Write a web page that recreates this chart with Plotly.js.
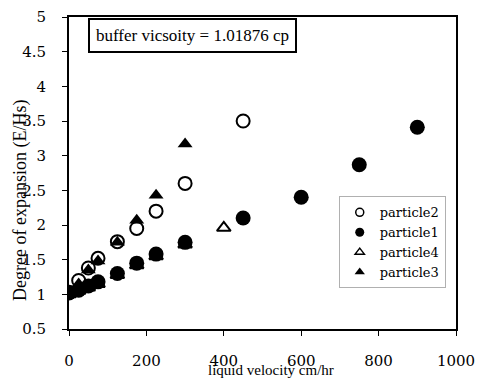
<!DOCTYPE html>
<html><head><meta charset="utf-8">
<script src="https://cdn.plot.ly/plotly-3.0.1.min.js"></script>
<style>
html,body{margin:0;padding:0;background:#fff}
#c{width:477px;height:379px}
</style>
</head><body><div id="c"></div>
<script>
const p2x = [0, 25, 50, 75, 125, 175, 225, 300, 450];
const p2y = [1.03, 1.2, 1.38, 1.52, 1.76, 1.95, 2.2, 2.6, 3.5];
const p1x = [0, 25, 50, 75, 125, 175, 225, 300, 450, 600, 750, 900];
const p1y = [1.02, 1.06, 1.12, 1.18, 1.3, 1.45, 1.58, 1.75, 2.1, 2.4, 2.87, 3.41];
const p4x = [0, 25, 50, 75, 125, 175, 225, 300, 400];
const p4y = [1.0, 1.05, 1.1, 1.15, 1.28, 1.42, 1.55, 1.72, 1.96];
const p3x = [0, 25, 50, 75, 125, 175, 225, 300];
const p3y = [1.02, 1.15, 1.35, 1.48, 1.75, 2.07, 2.43, 3.17];
const xTicks = [0, 200, 400, 600, 800, 1000];
const yTicks = [0.5, 1, 1.5, 2, 2.5, 3, 3.5, 4, 4.5, 5];
const seriesNames = ['particle2', 'particle1', 'particle4', 'particle3'];
const xTitle = 'liquid velocity cm/hr';
const yTitle = 'Degree of expansion (E/Hs)';
const note = 'buffer vicsoity = 1.01876 cp';

const serif = 'Liberation Serif';
const serif2 = 'DejaVu Serif';
const traces = [
  {x: p4x, y: p4y, name: seriesNames[2], showlegend: false, mode: 'markers', type: 'scatter',
   marker: {symbol: 'triangle-up', size: 12, color: '#fff', line: {color: '#000', width: 2}}},
  {x: p1x, y: p1y, name: seriesNames[1], showlegend: false, mode: 'markers', type: 'scatter',
   marker: {symbol: 'circle', size: 15, color: '#000', line: {width: 0}}},
  {x: p2x, y: p2y, name: seriesNames[0], showlegend: false, mode: 'markers', type: 'scatter',
   marker: {symbol: 'circle-open', size: 13, color: '#000', line: {color: '#000', width: 2}}},
  {x: p3x, y: p3y, name: seriesNames[3], showlegend: false, mode: 'markers', type: 'scatter',
   marker: {symbol: 'triangle-up', size: 13, color: '#000', line: {width: 0}}},
  {x: [null], y: [null], name: seriesNames[0], legendrank: 1, mode: 'markers', type: 'scatter',
   marker: {symbol: 'circle-open', size: 8, color: '#000', line: {color: '#000', width: 1.5}}},
  {x: [null], y: [null], name: seriesNames[1], legendrank: 2, mode: 'markers', type: 'scatter',
   marker: {symbol: 'circle', size: 9, color: '#000'}},
  {x: [null], y: [null], name: seriesNames[2], legendrank: 3, mode: 'markers', type: 'scatter',
   marker: {symbol: 'triangle-up', size: 8, color: '#fff', line: {color: '#000', width: 1.5}}},
  {x: [null], y: [null], name: seriesNames[3], legendrank: 4, mode: 'markers', type: 'scatter',
   marker: {symbol: 'triangle-up', size: 9, color: '#000'}}
];
const layout = {
  width: 477, height: 379,
  margin: {l: 69, r: 21, t: 17, b: 50},
  paper_bgcolor: '#fff', plot_bgcolor: '#fff',
  font: {family: serif, color: '#000'},
  showlegend: true,
  legend: {x: 0.697, y: 0.425, xanchor: 'left', yanchor: 'top',
    bordercolor: '#b0b0b0', borderwidth: 1, bgcolor: '#fff',
    font: {family: serif2, size: 13, color: '#000'},
    itemwidth: 30, tracegroupgap: 0, traceorder: 'normal'},
  xaxis: {range: [0, 1000], tickvals: xTicks, ticktext: xTicks.map(String),
    showgrid: false, zeroline: false, showline: true, linecolor: '#000', linewidth: 2, mirror: true,
    ticks: 'outside', ticklen: 5, tickcolor: '#000', ticklabelstandoff: 12,
    tickfont: {family: serif2, size: 15, color: '#000'}},
  yaxis: {range: [0.5, 5], tickvals: yTicks, ticktext: yTicks.map(String),
    showgrid: false, zeroline: false, showline: true, linecolor: '#000', linewidth: 2, mirror: true,
    ticks: 'outside', ticklen: 5, tickcolor: '#000', ticklabelstandoff: 13,
    tickfont: {family: serif2, size: 15, color: '#000'}},
  annotations: [
    {xref: 'paper', yref: 'paper', x: 0.049, y: 0.997, xanchor: 'left', yanchor: 'top',
     text: note, showarrow: false, align: 'left',
     font: {family: serif, size: 17, color: '#000'},
     bordercolor: '#000', borderwidth: 2, borderpad: 6, bgcolor: '#fff'},
    {xref: 'paper', yref: 'paper', x: (271 - 69) / 387, y: (329 - 370) / 312, xanchor: 'center', yanchor: 'middle',
     text: xTitle, showarrow: false, font: {family: serif, size: 15, color: '#000'}},
    {xref: 'paper', yref: 'paper', x: (20 - 69) / 387, y: (329 - 201) / 312, xanchor: 'center', yanchor: 'middle',
     text: yTitle, textangle: -90, showarrow: false, font: {family: serif, size: 18, color: '#000'}}
  ]
};
Plotly.newPlot('c', traces, layout, {displayModeBar: false, staticPlot: true});
</script></body></html>
